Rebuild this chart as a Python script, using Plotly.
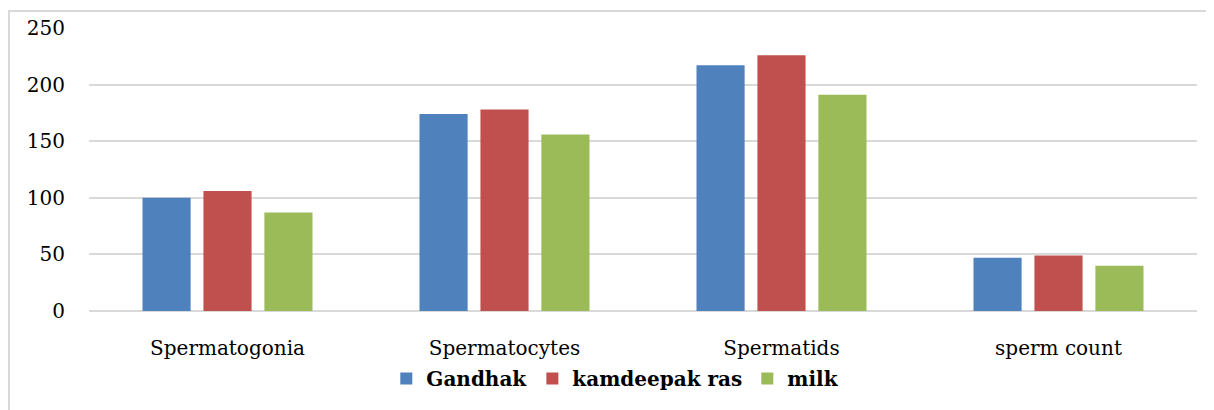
import plotly.graph_objects as go

categories = ['Spermatogonia', 'Spermatocytes', 'Spermatids', 'sperm count']
gandhak = [100, 174, 217, 47]
kamdeepak = [106, 178, 226, 49]
milk = [87, 156, 191, 40]

colors = ['#4F81BD', '#C0504D', '#9BBB59']
names = ['Gandhak', 'kamdeepak ras', 'milk']

fig = go.Figure()
for vals, c, n in zip([gandhak, kamdeepak, milk], colors, names):
    fig.add_trace(go.Bar(x=categories, y=vals, name=n, marker=dict(color=c, line=dict(width=0))))

# the page body has an 8px margin, so the figure is a bit smaller than the window
W, H = 1206, 402
ml, mr, mt, mb = 81, 17, 20, 99
pw, ph = W - ml - mr, H - mt - mb

fig.update_layout(
    width=W, height=H,
    margin=dict(l=ml, r=mr, t=mt, b=mb, autoexpand=False),
    paper_bgcolor='white', plot_bgcolor='white',
    font=dict(family='DejaVu Serif, serif', size=20, color='black'),
    barmode='group', bargap=0.34, bargroupgap=0.21,
    showlegend=True,
    legend=dict(orientation='h', x=0.475, xanchor='center', y=-0.17, yanchor='top',
                bgcolor='rgba(0,0,0,0)',
                font=dict(size=20, weight='bold'), itemwidth=30, traceorder='normal'),
    xaxis=dict(showgrid=False, showline=False, ticks='', tickfont=dict(size=20),
               ticklabelstandoff=23, automargin=False),
    yaxis=dict(range=[0, 250], dtick=50, showgrid=True, gridcolor='#d9d9d9', gridwidth=1.5,
               zeroline=True, zerolinecolor='#d9d9d9', zerolinewidth=1.5,
               ticks='', ticklabelstandoff=23, tickfont=dict(size=20), automargin=False),
    shapes=[dict(type='rect', xref='paper', yref='paper',
                 x0=(1 - ml) / pw, x1=(1205 - ml) / pw,
                 y0=(H - mb - 410) / ph, y1=(H - mb - 3) / ph,
                 line=dict(color='#d9d9d9', width=2), layer='below')],
)

fig.write_html('out.html')
